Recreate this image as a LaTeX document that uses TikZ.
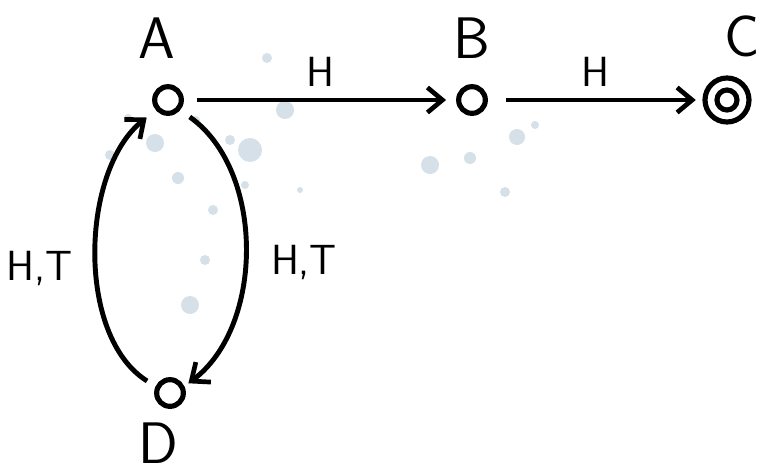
\documentclass[tikz,border=0pt]{standalone}
\usepackage{tikz}
\usetikzlibrary{positioning,arrows.meta}

\definecolor{splat}{HTML}{D5E0E8}

\tikzset{
  state/.style = {circle, draw, line width=4.4pt, inner sep=0pt, minimum width=0.68cm, minimum height=0.8cm},
  statename/.style = {font=\fontsize{50}{50}\selectfont\sffamily},
  edgename/.style = {font=\fontsize{36}{36}\selectfont\sffamily},
  move/.style = {line width=4.2pt, -{Straight Barb[length=4.5mm, width=7.5mm, line width=4pt]}}
}

\begin{document}
\begin{tikzpicture}[x = 0.03cm, y = -0.03cm]
\useasboundingbox (0, 0) rectangle (758, 473);

% ink spots behind the states
\foreach \px/\py/\r in {155/143/9, 250/150/12, 285/110/9, 267/58/5, 178/178/6, 110/155/5,
  230/140/5, 245/185/4, 213/210/5, 205/260/5, 190/305/9, 430/165/9, 470/158/6,
  517/137/8, 505/192/5, 535/125/4, 128/118/4, 300/190/3, 196/120/4}
  \fill[splat] (\px, \py) circle (\r);

% states
\node[state] (A) at (168, 100) {};
\node[state] (B) at (472, 100) {};
\node[state, minimum width=0.5cm, minimum height=0.6cm] (C) at (727, 100) {};
\node[state, minimum width=1.2cm, minimum height=1.32cm] (Cout) at (727, 100) {};
\node[state] (D) at (170, 393) {};

\node[statename] (nA) at (157, 38) {A};
\node[statename] (nB) at (472, 38) {B};
\node[statename] (nC) at (742, 36) {C};
\node[statename] (nD) at (158, 443) {D};

% transitions
\draw[move, shorten <= 0.4cm, shorten >= 0.3cm] (A) -- (B) node[edgename, midway, above=0.2cm] (hAB) {H};
\draw[move, shorten <= 0.55cm, shorten >= 0.2cm] (B) -- (Cout) node[edgename, midway, above=0.2cm] (hBC) {H};
\draw[move, shorten <= 0.35cm, shorten >= 0.15cm] (A.-40) .. controls +(85, 60) and +(80, -60) .. (D.25);
\draw[move, shorten <= 0.3cm, shorten >= 0.35cm] (D.155) .. controls +(-80, -50) and +(-75, 60) .. (A.-140);

\node[edgename] (htR) at (304, 262) {H,T};
\node[edgename] (htL) at (40, 268) {H,T};
\end{tikzpicture}
\end{document}
